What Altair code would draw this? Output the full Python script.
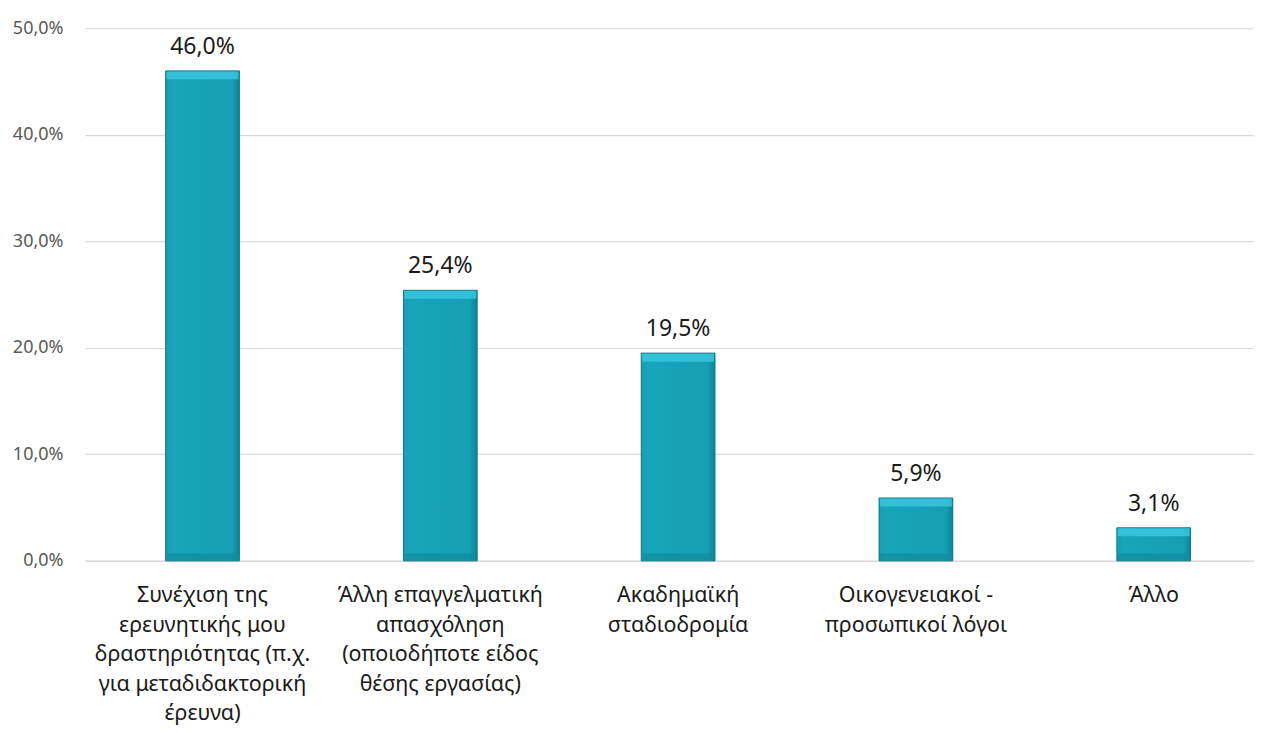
import altair as alt
import pandas as pd

categories = [
    "Συνέχιση της|ερευνητικής μου|δραστηριότητας (π.χ.|για μεταδιδακτορική|έρευνα)",
    "Άλλη επαγγελματική|απασχόληση|(οποιοδήποτε είδος|θέσης εργασίας)",
    "Ακαδημαϊκή|σταδιοδρομία",
    "Οικογενειακοί -|προσωπικοί λόγοι",
    "Άλλο",
]
values = [0.460, 0.254, 0.195, 0.059, 0.031]

df = pd.DataFrame({"cat": categories, "val": values})
df["label"] = [f"{v*100:.1f}%".replace(".", ",") for v in values]

FONT = "Noto Sans"

xscale = alt.Scale(paddingInner=0.69, paddingOuter=0.303, align=0.56)
x = alt.X("cat:N", sort=categories, title=None, scale=xscale,
          axis=alt.Axis(labelExpr="split(datum.label, '|')", labelAngle=0,
                        labelFontSize=21.5, labelColor="#1a1a1a", labelFont=FONT,
                        labelLineHeight=29.5, labelPadding=24, ticks=False, grid=False,
                        domain=True, domainColor="#d9d9d9", domainWidth=1.5,
                        labelLimit=400))
y = alt.Y("val:Q", title=None,
          scale=alt.Scale(domain=[0, 0.5], nice=False),
          axis=alt.Axis(values=[0, 0.1, 0.2, 0.3, 0.4, 0.5],
                        labelExpr="replace(format(datum.value, '.1%'), '.', ',')",
                        labelFontSize=18, labelColor="#595959", labelFont=FONT,
                        ticks=False, domain=False, labelPadding=22,
                        gridColor="#d9d9d9", gridWidth=1.2))

base = alt.Chart(df)
bars = base.mark_bar(
    stroke="#0d7585", strokeWidth=1,
    fill=alt.Gradient(
        gradient="linear", x1=0, x2=1, y1=0, y2=0,
        stops=[alt.GradientStop(color="#1c9db2", offset=0),
               alt.GradientStop(color="#18a4bb", offset=0.1),
               alt.GradientStop(color="#169eb5", offset=0.9),
               alt.GradientStop(color="#0f8294", offset=1)]),
).encode(x=x, y=y)

xe = alt.X("cat:N", sort=categories, scale=xscale)
top_bevel = base.mark_tick(thickness=8, size=72, yOffset=4.5, color="#38c6de", opacity=0.85).encode(
    x=xe, y="val:Q")
bottom_bevel = base.transform_calculate(zero="0").mark_tick(
    thickness=7, size=72, yOffset=-4, color="#128b9e", opacity=0.7).encode(
    x=xe, y=alt.Y("zero:Q"))

text = base.mark_text(dy=-24, fontSize=23, font=FONT, color="#1a1a1a").encode(
    x=xe, y="val:Q", text="label:N")

chart = (bars + top_bevel + bottom_bevel + text).properties(
    width=1170, height=533, padding={"left": 4, "top": 11, "right": 0, "bottom": 0}
).configure(background="white").configure_view(stroke=None)

chart.save("out.html", embed_options={"renderer": "svg", "actions": False})
